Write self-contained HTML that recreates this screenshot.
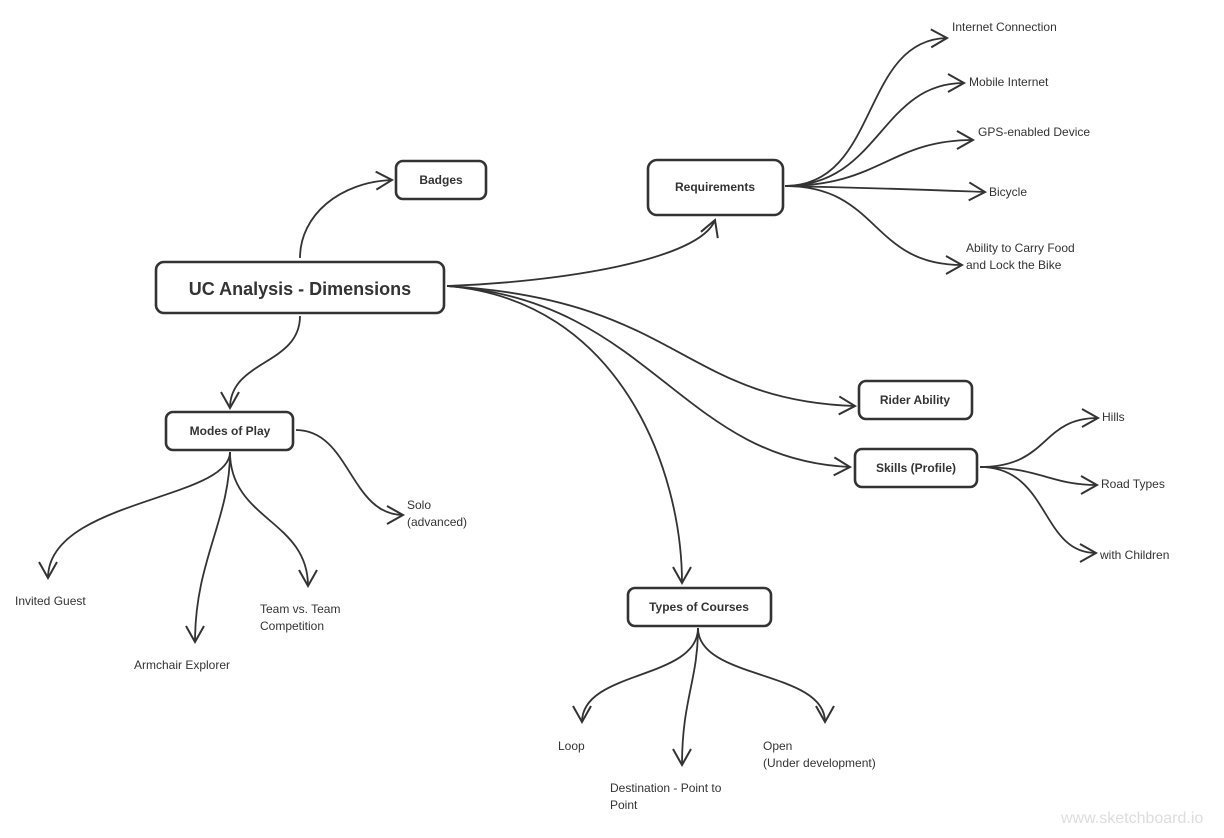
<!DOCTYPE html>
<html><head><meta charset="utf-8"><style>
html,body{margin:0;padding:0;background:#fff;}
svg{display:block;}
text{font-family:"Liberation Sans",sans-serif;fill:#333;font-size:12px;}
.b{font-weight:bold;}
</style></head><body>
<svg width="1224" height="838" viewBox="0 0 1224 838" xmlns="http://www.w3.org/2000/svg">
<defs>
<marker id="a" markerUnits="userSpaceOnUse" markerWidth="24" markerHeight="24" refX="20" refY="12" orient="auto" viewBox="0 0 24 24">
<path d="M4,3 L20,12 L4,21" fill="none" stroke="#333" stroke-width="2"/>
</marker>
</defs>
<g fill="none" stroke="#333" stroke-width="1.8" marker-end="url(#a)">
<path d="M300,258 C300,215 340,182 392,180"/>
<path d="M447,286 C560,282 700,260 715,220"/>
<path d="M447,286 C680,300 680,400 855,406"/>
<path d="M447,286 C650,300 680,460 850,467"/>
<path d="M447,286 C620,300 682,470 682,583"/>
<path d="M300,316 C300,365 230,360 230,408"/>
<path d="M296,430 C350,430 350,515 403,515"/>
<path d="M230,452 C230,500 48,500 48,578"/>
<path d="M230,452 C230,520 195,560 195,642"/>
<path d="M230,452 C230,520 308,520 308,586"/>
<path d="M785,186 C880,186 860,40 947,38"/>
<path d="M785,186 C880,186 880,83 964,83"/>
<path d="M785,186 C880,186 890,140 973,140"/>
<path d="M785,186 C880,188 930,190 985,192"/>
<path d="M785,186 C880,186 870,265 962,265"/>
<path d="M980,467 C1050,467 1040,418 1098,418"/>
<path d="M980,467 C1040,467 1050,485 1097,485"/>
<path d="M980,467 C1050,467 1040,553 1096,553"/>
<path d="M698,628 C698,680 582,670 582,722"/>
<path d="M698,628 C698,680 682,700 682,765"/>
<path d="M698,628 C698,680 825,670 825,722"/>
</g>
<g fill="#fff" stroke="#333" stroke-width="2.6">
<rect x="396" y="161" width="90" height="38" rx="7"/>
<rect x="648" y="160" width="135" height="55" rx="9"/>
<rect x="156" y="262" width="288" height="51" rx="8"/>
<rect x="166" y="412" width="127" height="38" rx="7"/>
<rect x="859" y="381" width="113" height="38" rx="7"/>
<rect x="855" y="449" width="122" height="38" rx="7"/>
<rect x="628" y="588" width="143" height="38" rx="7"/>
</g>
<text class="b" x="441" y="184" text-anchor="middle">Badges</text>
<text class="b" x="715" y="191" text-anchor="middle">Requirements</text>
<text class="b" x="300" y="295" text-anchor="middle" style="font-size:18px">UC Analysis - Dimensions</text>
<text class="b" x="230" y="435" text-anchor="middle">Modes of Play</text>
<text class="b" x="915" y="404" text-anchor="middle">Rider Ability</text>
<text class="b" x="916" y="472" text-anchor="middle">Skills (Profile)</text>
<text class="b" x="699" y="611" text-anchor="middle">Types of Courses</text>
<text x="952" y="31">Internet Connection</text>
<text x="969" y="86">Mobile Internet</text>
<text x="978" y="136">GPS-enabled Device</text>
<text x="989" y="196">Bicycle</text>
<text x="966" y="252">Ability to Carry Food</text>
<text x="966" y="269">and Lock the Bike</text>
<text x="1102" y="421">Hills</text>
<text x="1101" y="488">Road Types</text>
<text x="1100" y="559">with Children</text>
<text x="407" y="509">Solo</text>
<text x="407" y="526">(advanced)</text>
<text x="15" y="605">Invited Guest</text>
<text x="134" y="669">Armchair Explorer</text>
<text x="260" y="613">Team vs. Team</text>
<text x="260" y="630">Competition</text>
<text x="558" y="750">Loop</text>
<text x="610" y="792">Destination - Point to</text>
<text x="610" y="809">Point</text>
<text x="763" y="750">Open</text>
<text x="763" y="767">(Under development)</text>
<text x="1061" y="823" style="font-size:16px;fill:#ddd">www.sketchboard.io</text>
</svg>
</body></html>
